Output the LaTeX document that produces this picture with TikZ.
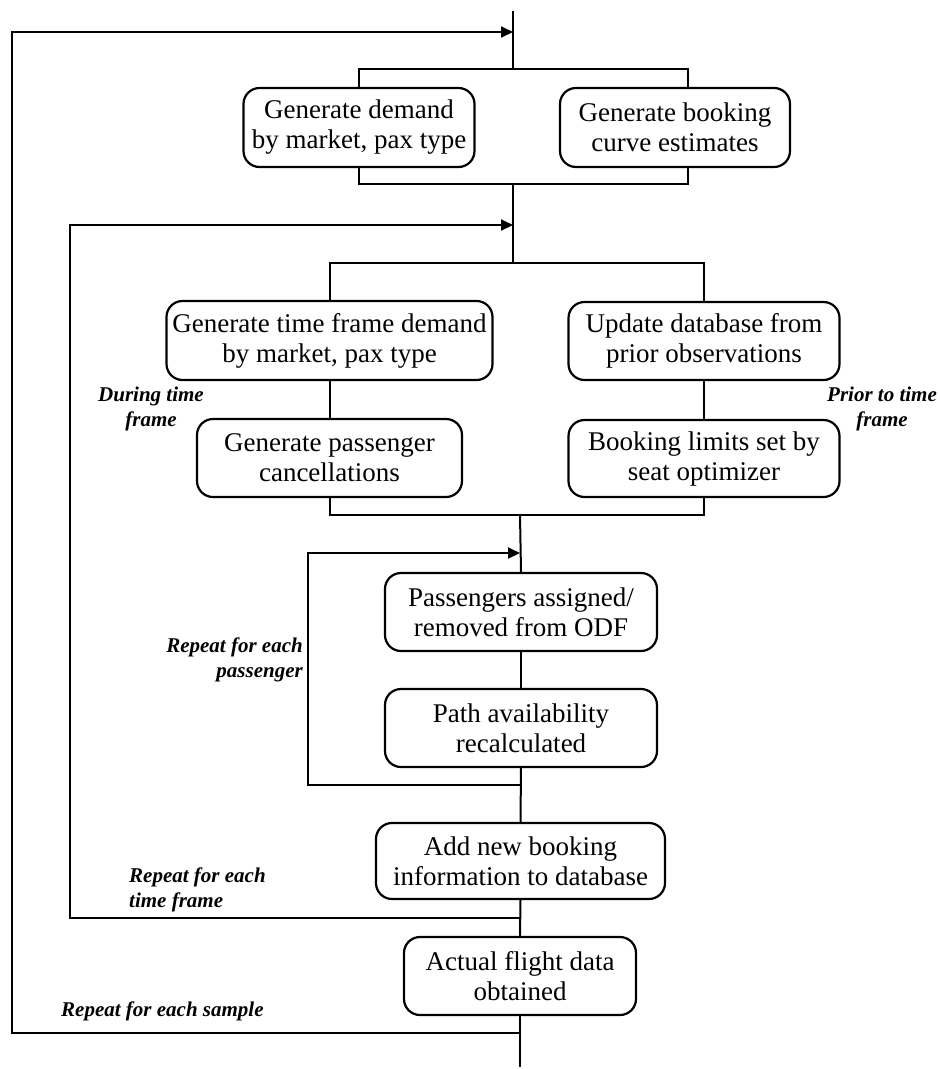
\documentclass[tikz,border=0pt]{standalone}
\usepackage{fontspec}
\setmainfont{Liberation Serif}
\usetikzlibrary{arrows.meta}
\begin{document}
\begin{tikzpicture}[x=1pt,y=-1pt,
  box/.style={draw, line width=2.2pt, rounded corners=16pt, inner sep=0pt,
    align=center, font=\fontsize{27}{30}\selectfont},
  lbl/.style={font=\fontsize{21}{24.5}\selectfont\bfseries\itshape, inner sep=0pt},
  wire/.style={line width=2pt},
  loopback/.style={wire, -{Triangle[length=12pt,width=11pt]}}]
\useasboundingbox (0,0) rectangle (940,1069);

% sampling stage
\node[box, minimum width=231pt, minimum height=79pt] (A) at (359,127.5) {Generate demand\\by market, pax type};
\node[box, minimum width=230pt, minimum height=79pt] (B) at (675,127.5) {Generate booking\\curve estimates};

% time-frame stage
\node[box, minimum width=326pt, minimum height=79pt] (C) at (329.5,340.5) {Generate time frame demand\\by market, pax type};
\node[box, minimum width=271pt, minimum height=78pt] (D) at (704,341) {Update database from\\prior observations};
\node[box, minimum width=265pt, minimum height=78pt] (E) at (329.5,458) {Generate passenger\\cancellations};
\node[box, minimum width=271pt, minimum height=77pt] (F) at (704,458.5) {Booking limits set by\\seat optimizer};

% passenger stage
\node[box, minimum width=272pt, minimum height=78pt] (G) at (521,612) {Passengers assigned/\\removed from ODF};
\node[box, minimum width=272pt, minimum height=78pt] (H) at (521,728) {Path availability\\recalculated};
\node[box, minimum width=289pt, minimum height=76pt] (I) at (520.5,861) {Add new booking\\information to database};
\node[box, minimum width=232pt, minimum height=78pt] (J) at (520,976) {Actual flight data\\obtained};

% labels
\node[lbl, align=center] (during) at (151,409) {During time\\frame};
\node[lbl, align=center] (prior) at (882,409) {Prior to time\\frame};
\node[lbl, align=right, anchor=east] (perpax) at (303,660) {Repeat for each\\passenger};
\node[lbl, align=left, anchor=west] (pertf) at (129,890) {Repeat for each\\time frame};
\node[lbl, anchor=west] (persample) at (61,1011) {Repeat for each sample};

% spine coordinates
\coordinate (top) at (513,11);
\coordinate (s1) at (513,32);
\coordinate (b1t) at (513,69);
\coordinate (b1r) at (688,69);
\coordinate (b1b) at (513,184);
\coordinate (t1) at (513,225);
\coordinate (b2t) at (513,263);
\coordinate (b2b) at (520,515);
\coordinate (p1) at (520,553);
\coordinate (p0) at (520,785);
\coordinate (t0) at (520,918);
\coordinate (s0) at (520,1033);
\coordinate (bottom) at (520,1067);

% main flow
\draw[wire] (top) -- (b1t);
\draw[wire] (A.north) |- (b1t) -- (b1r) -- (b1r |- B.north);
\draw[wire] (A.south) |- (b1b) -- (b1b -| b1r) -- (b1r |- B.south);
\draw[wire] (b1b) -- (b2t);
\draw[wire] (C.north) |- (b2t) -| (D.north);
\draw[wire] (C.south) -- (E.north);
\draw[wire] (D.south) -- (F.north);
\draw[wire] (E.south) |- (b2b) -| (F.south);
\draw[wire] (b2b) -- (G.north);
\draw[wire] (G.south) -- (H.north);
\draw[wire] (H.south) -- (I.north);
\draw[wire] (I.south) -- (J.north);
\draw[wire] (J.south) -- (bottom);

% repeat loops
\draw[loopback] (p0) -- ++(-212,0) |- (p1);
\draw[loopback] (t0) -- ++(-450,0) |- (t1);
\draw[loopback] (s0) -- ++(-508,0) |- (s1);
\end{tikzpicture}
\end{document}
